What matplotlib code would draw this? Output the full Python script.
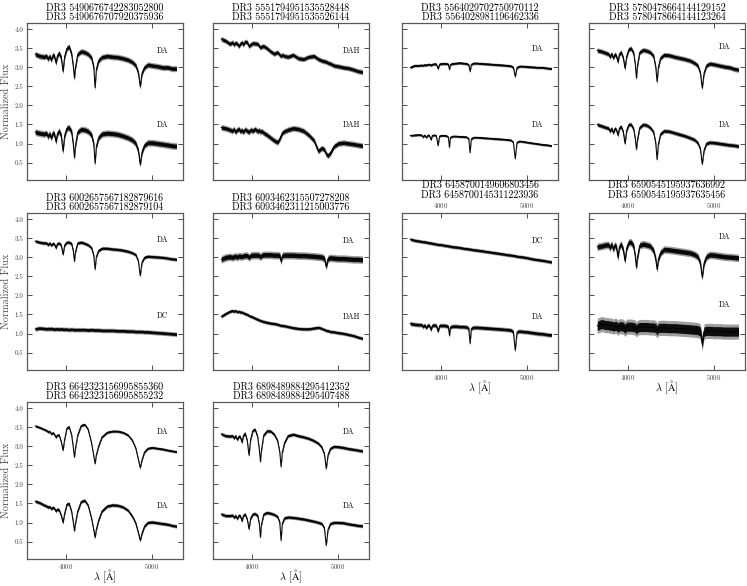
import numpy as np
import matplotlib
matplotlib.use("Agg")
import matplotlib.pyplot as plt

plt.rcParams['font.family'] = ['cmr10', 'DejaVu Serif']
plt.rcParams['mathtext.fontset'] = 'cm'
plt.rcParams['axes.formatter.use_mathtext'] = True

# wavelength grid (Angstrom) shared by all spectra
wave = [3650, 3700, 3750, 3780, 3798, 3815, 3835, 3855, 3870, 3889,
        3905, 3925, 3950, 3970, 3990, 4015, 4040, 4070, 4090, 4102,
        4114, 4140, 4180, 4220, 4260, 4300, 4325, 4340, 4355, 4380,
        4420, 4480, 4540, 4600, 4660, 4720, 4770, 4810, 4840, 4861,
        4882, 4910, 4950, 5000, 5060, 5120, 5180, 5230, 5280]

titles_a = ["DR3 5490676742283052800", "DR3 5551794951535528448",
            "DR3 5564029702750970112", "DR3 5780478664144129152",
            "DR3 6002657567182879616", "DR3 6093462315507278208",
            "DR3 6458700149606803456", "DR3 6590545195937636992",
            "DR3 6642323156995855360", "DR3 6898489884295412352"]
titles_b = ["DR3 5490676707920375936", "DR3 5551794951535526144",
            "DR3 5564028981196462336", "DR3 5780478664144123264",
            "DR3 6002657567182879104", "DR3 6093462311215003776",
            "DR3 6458700145311223936", "DR3 6590545195937635456",
            "DR3 6642323156995855232", "DR3 6898489884295407488"]
types_top = ["DA", "DAH", "DA", "DA", "DA", "DA", "DC", "DA", "DA", "DA"]
types_bot = ["DA", "DAH", "DA", "DA", "DC", "DAH", "DA", "DA", "DA", "DA"]

# upper spectrum (offset) of each pair
top_1 = [3.35, 3.30, 3.28, 3.30, 3.22, 3.30, 3.20, 3.33, 3.30, 3.12,
         3.30, 3.38, 3.25, 2.90, 3.30, 3.50, 3.55, 3.35, 3.00, 2.72,
         3.00, 3.35, 3.42, 3.40, 3.35, 3.25, 3.00, 2.47, 2.95, 3.18,
         3.27, 3.30, 3.28, 3.27, 3.24, 3.20, 3.14, 3.05, 2.85, 2.50,
         2.85, 3.00, 3.07, 3.05, 3.03, 3.00, 3.00, 2.97, 2.97]
top_2 = [3.75, 3.70, 3.62, 3.66, 3.60, 3.65, 3.62, 3.56, 3.62, 3.66,
         3.60, 3.68, 3.66, 3.56, 3.60, 3.64, 3.63, 3.62, 3.56, 3.52,
         3.55, 3.56, 3.50, 3.42, 3.36, 3.40, 3.33, 3.30, 3.33, 3.30,
         3.28, 3.33, 3.24, 3.22, 3.28, 3.30, 3.22, 3.18, 3.16, 3.15,
         3.12, 3.10, 3.05, 3.03, 3.00, 2.98, 2.94, 2.90, 2.88]
top_3 = [3.00, 3.05, 3.05, 3.06, 3.05, 3.07, 3.06, 3.08, 3.08, 3.06,
         3.08, 3.09, 3.09, 2.97, 3.09, 3.10, 3.10, 3.10, 3.08, 2.95,
         3.08, 3.10, 3.11, 3.12, 3.11, 3.10, 3.07, 2.90, 3.08, 3.11,
         3.11, 3.10, 3.09, 3.08, 3.07, 3.06, 3.05, 3.04, 3.00, 2.76,
         3.00, 3.03, 3.03, 3.02, 3.01, 3.00, 3.00, 2.98, 2.97]
top_4 = [3.45, 3.42, 3.38, 3.35, 3.28, 3.36, 3.25, 3.35, 3.30, 3.15,
         3.35, 3.40, 3.25, 2.98, 3.30, 3.48, 3.50, 3.38, 3.05, 2.72,
         3.05, 3.40, 3.46, 3.44, 3.40, 3.30, 3.00, 2.63, 3.00, 3.25,
         3.33, 3.32, 3.28, 3.25, 3.22, 3.18, 3.12, 3.05, 2.85, 2.46,
         2.85, 3.05, 3.10, 3.08, 3.05, 3.02, 3.00, 2.96, 2.94]
top_5 = [3.43, 3.40, 3.38, 3.38, 3.33, 3.38, 3.32, 3.37, 3.35, 3.25,
         3.36, 3.38, 3.32, 3.08, 3.33, 3.40, 3.40, 3.36, 3.15, 2.90,
         3.15, 3.38, 3.40, 3.37, 3.33, 3.25, 3.05, 2.69, 3.02, 3.18,
         3.24, 3.24, 3.22, 3.21, 3.19, 3.16, 3.12, 3.07, 2.90, 2.52,
         2.88, 3.00, 3.03, 3.02, 3.01, 3.00, 2.98, 2.96, 2.95]
top_6 = [2.95, 3.00, 3.02, 3.00, 3.02, 3.03, 3.01, 3.04, 3.03, 3.02,
         3.04, 3.05, 3.05, 3.00, 3.05, 3.06, 3.06, 3.06, 3.05, 3.01,
         3.05, 3.07, 3.07, 3.07, 3.06, 3.06, 3.05, 2.90, 3.05, 3.06,
         3.06, 3.06, 3.05, 3.05, 3.04, 3.03, 3.02, 3.01, 2.97, 2.76,
         2.97, 2.99, 2.98, 2.97, 2.97, 2.96, 2.95, 2.95, 2.94]
top_7 = [3.48, 3.45, 3.43, 3.42, 3.41, 3.41, 3.40, 3.39, 3.38, 3.38,
         3.37, 3.36, 3.35, 3.34, 3.34, 3.33, 3.32, 3.31, 3.30, 3.30,
         3.29, 3.28, 3.27, 3.26, 3.24, 3.23, 3.22, 3.22, 3.21, 3.20,
         3.19, 3.17, 3.15, 3.13, 3.11, 3.09, 3.07, 3.06, 3.05, 3.04,
         3.03, 3.02, 3.01, 2.99, 2.96, 2.94, 2.92, 2.90, 2.88]
top_8 = [3.28, 3.30, 3.33, 3.33, 3.25, 3.35, 3.22, 3.33, 3.28, 3.00,
         3.28, 3.35, 3.20, 2.91, 3.25, 3.40, 3.40, 3.30, 3.00, 2.74,
         3.00, 3.32, 3.35, 3.33, 3.30, 3.18, 2.95, 2.69, 2.95, 3.12,
         3.21, 3.20, 3.18, 3.16, 3.14, 3.12, 3.08, 3.02, 2.85, 2.48,
         2.85, 3.02, 3.07, 3.06, 3.04, 3.02, 3.01, 3.00, 2.99]
top_9 = [3.54, 3.50, 3.45, 3.42, 3.38, 3.40, 3.33, 3.36, 3.32, 3.24,
         3.30, 3.30, 3.12, 2.90, 3.20, 3.48, 3.52, 3.30, 2.95, 2.72,
         2.95, 3.30, 3.55, 3.58, 3.45, 3.08, 2.75, 2.55, 2.78, 3.00,
         3.25, 3.37, 3.40, 3.40, 3.37, 3.30, 3.16, 2.95, 2.65, 2.44,
         2.65, 2.85, 2.95, 2.97, 2.95, 2.93, 2.90, 2.88, 2.86]
top_10 = [3.33, 3.28, 3.27, 3.28, 3.22, 3.28, 3.18, 3.27, 3.25, 3.11,
          3.28, 3.35, 3.15, 2.77, 3.20, 3.42, 3.45, 3.25, 2.90, 2.60,
          2.90, 3.30, 3.41, 3.40, 3.32, 3.15, 2.85, 2.47, 2.85, 3.10,
          3.28, 3.32, 3.28, 3.25, 3.21, 3.15, 3.08, 2.98, 2.80, 2.42,
          2.78, 2.95, 3.00, 2.99, 2.97, 2.94, 2.92, 2.90, 2.88]

# lower spectrum of each pair
bot_1 = [1.30, 1.27, 1.25, 1.27, 1.18, 1.26, 1.15, 1.28, 1.25, 1.05,
         1.25, 1.33, 1.20, 0.80, 1.22, 1.40, 1.42, 1.30, 0.95, 0.63,
         0.95, 1.30, 1.37, 1.36, 1.32, 1.22, 0.98, 0.48, 0.92, 1.15,
         1.25, 1.27, 1.26, 1.24, 1.20, 1.15, 1.09, 1.00, 0.80, 0.45,
         0.78, 0.95, 1.02, 1.02, 1.00, 0.98, 0.96, 0.94, 0.93]
bot_2 = [1.42, 1.40, 1.36, 1.33, 1.38, 1.30, 1.36, 1.38, 1.32, 1.35,
         1.30, 1.37, 1.33, 1.30, 1.36, 1.33, 1.38, 1.32, 1.35, 1.30,
         1.33, 1.28, 1.22, 1.15, 1.08, 1.03, 1.12, 1.20, 1.28, 1.32,
         1.36, 1.40, 1.38, 1.33, 1.22, 1.08, 0.80, 0.88, 0.84, 0.72,
         0.68, 0.75, 0.92, 1.00, 1.02, 1.00, 0.98, 0.96, 0.94]
bot_3 = [1.21, 1.22, 1.23, 1.22, 1.17, 1.22, 1.16, 1.22, 1.21, 1.10,
         1.21, 1.22, 1.21, 0.95, 1.20, 1.21, 1.21, 1.20, 1.16, 0.90,
         1.16, 1.19, 1.19, 1.18, 1.18, 1.17, 1.12, 0.76, 1.12, 1.16,
         1.16, 1.15, 1.14, 1.13, 1.12, 1.11, 1.10, 1.09, 1.03, 0.60,
         1.03, 1.06, 1.05, 1.03, 1.01, 0.99, 0.97, 0.96, 0.94]
bot_4 = [1.50, 1.46, 1.42, 1.40, 1.32, 1.40, 1.28, 1.40, 1.36, 1.22,
         1.40, 1.45, 1.30, 1.00, 1.35, 1.50, 1.50, 1.38, 1.10, 0.85,
         1.10, 1.42, 1.50, 1.48, 1.42, 1.30, 1.00, 0.58, 0.98, 1.25,
         1.33, 1.32, 1.28, 1.24, 1.20, 1.15, 1.10, 1.02, 0.85, 0.46,
         0.82, 1.00, 1.03, 1.02, 1.00, 0.98, 0.96, 0.95, 0.93]
bot_5 = [1.12, 1.14, 1.13, 1.12, 1.13, 1.12, 1.13, 1.12, 1.11, 1.12,
         1.12, 1.11, 1.12, 1.11, 1.11, 1.11, 1.10, 1.11, 1.10, 1.10,
         1.10, 1.10, 1.10, 1.10, 1.09, 1.10, 1.09, 1.09, 1.09, 1.09,
         1.08, 1.08, 1.08, 1.07, 1.07, 1.06, 1.06, 1.05, 1.05, 1.05,
         1.05, 1.04, 1.04, 1.03, 1.02, 1.01, 1.00, 0.99, 0.98]
bot_6 = [1.45, 1.52, 1.58, 1.60, 1.58, 1.60, 1.57, 1.58, 1.56, 1.56,
         1.54, 1.52, 1.50, 1.47, 1.45, 1.43, 1.40, 1.37, 1.35, 1.34,
         1.33, 1.31, 1.29, 1.27, 1.26, 1.24, 1.22, 1.21, 1.21, 1.20,
         1.18, 1.15, 1.13, 1.12, 1.12, 1.14, 1.16, 1.13, 1.10, 1.08,
         1.07, 1.05, 1.04, 1.02, 1.00, 0.97, 0.94, 0.90, 0.87]
bot_7 = [1.26, 1.24, 1.23, 1.23, 1.18, 1.22, 1.15, 1.22, 1.21, 1.10,
         1.21, 1.22, 1.21, 1.06, 1.21, 1.21, 1.21, 1.20, 1.17, 0.95,
         1.17, 1.19, 1.19, 1.18, 1.18, 1.17, 1.13, 0.74, 1.13, 1.16,
         1.16, 1.15, 1.14, 1.13, 1.12, 1.11, 1.10, 1.09, 1.04, 0.56,
         1.04, 1.06, 1.05, 1.04, 1.02, 1.00, 0.99, 0.97, 0.96]
bot_8 = [1.20, 1.25, 1.22, 1.22, 1.20, 1.21, 1.18, 1.20, 1.20, 1.15,
         1.19, 1.19, 1.18, 1.12, 1.18, 1.18, 1.18, 1.17, 1.15, 1.10,
         1.15, 1.17, 1.17, 1.17, 1.16, 1.16, 1.14, 1.08, 1.14, 1.15,
         1.15, 1.14, 1.14, 1.13, 1.12, 1.11, 1.10, 1.09, 1.05, 0.74,
         1.05, 1.07, 1.07, 1.06, 1.06, 1.05, 1.05, 1.05, 1.05]
bot_9 = [1.56, 1.52, 1.46, 1.43, 1.40, 1.42, 1.36, 1.40, 1.37, 1.30,
         1.35, 1.33, 1.18, 1.00, 1.25, 1.48, 1.50, 1.28, 0.98, 0.78,
         0.98, 1.30, 1.55, 1.58, 1.45, 1.10, 0.80, 0.61, 0.82, 1.05,
         1.30, 1.43, 1.46, 1.45, 1.41, 1.32, 1.16, 0.98, 0.72, 0.53,
         0.72, 0.90, 1.00, 1.01, 0.99, 0.97, 0.95, 0.92, 0.90]
bot_10 = [1.22, 1.18, 1.18, 1.19, 1.13, 1.18, 1.10, 1.19, 1.17, 1.04,
          1.18, 1.22, 1.08, 0.83, 1.12, 1.22, 1.23, 1.18, 0.95, 0.61,
          0.95, 1.22, 1.26, 1.24, 1.21, 1.15, 1.00, 0.53, 0.98, 1.12,
          1.14, 1.13, 1.11, 1.09, 1.06, 1.03, 1.00, 0.97, 0.85, 0.40,
          0.82, 0.97, 1.00, 1.00, 0.99, 0.96, 0.94, 0.92, 0.91]

# approximate scatter half-width of each spectrum
noise_top = [0.08, 0.07, 0.04, 0.07, 0.05, 0.10, 0.05, 0.10, 0.04, 0.05]
noise_bot = [0.09, 0.08, 0.035, 0.06, 0.06, 0.05, 0.06, 0.20, 0.05, 0.05]

tops = [top_1, top_2, top_3, top_4, top_5, top_6, top_7, top_8, top_9, top_10]
bots = [bot_1, bot_2, bot_3, bot_4, bot_5, bot_6, bot_7, bot_8, bot_9, bot_10]

# label heights per panel (layout)
lab_y_top = [3.44, 3.44, 3.50, 3.54, 3.46, 3.43, 3.43, 3.54, 3.39, 3.39]
lab_y_bot = [1.48, 1.48, 1.48, 1.48, 1.46, 1.43, 1.43, 1.75, 1.45, 1.43]

W, H = 747, 586
fig = plt.figure(figsize=(W / 100, H / 100), dpi=100)

col_left = [27, 213, 402, 589]
row_top = [23, 213, 402]
aw, ah = 156, 157
cells = [(0, 0), (0, 1), (0, 2), (0, 3),
         (1, 0), (1, 1), (1, 2), (1, 3),
         (2, 0), (2, 1)]
wave = np.array(wave)

for i, (r, c) in enumerate(cells):
    ax = fig.add_axes([col_left[c] / W, 1 - (row_top[r] + ah) / H, aw / W, ah / H])
    for flux, nz in ((tops[i], noise_top[i]), (bots[i], noise_bot[i])):
        flux = np.array(flux)
        ax.fill_between(wave, flux - nz, flux + nz, color='0.62', lw=0)
        ax.fill_between(wave, flux - 0.6 * nz, flux + 0.6 * nz, color='0.05', lw=0)
        ax.plot(wave, flux, color='k', lw=0.7)
    ax.text(5050, lab_y_top[i], types_top[i], fontsize=5.6, va='center')
    ax.text(5050, lab_y_bot[i], types_bot[i], fontsize=5.6, va='center')

    ax.set_xlim(3555, 5355)
    ax.set_ylim(0.04, 4.17)
    ax.set_xticks([4000, 5000])
    ax.set_yticks([0.5, 1.0, 1.5, 2.0, 2.5, 3.0, 3.5, 4.0])
    ax.yaxis.set_major_formatter(matplotlib.ticker.FormatStrFormatter('%.1f'))
    ax.tick_params(direction='in', top=True, right=True, length=3.5, width=0.7,
                   color='0.3', labelsize=5, labelcolor='0.25', pad=2.5)
    for s in ax.spines.values():
        s.set_color('0.35')
        s.set_linewidth(0.9)

    if i in (6, 7, 8, 9):
        ax.set_xlabel(r'$\lambda$ [$\mathrm{\AA}$]', fontsize=7.4)
        ax.xaxis.set_label_coords(0.5, -0.055)
    else:
        ax.tick_params(labelbottom=False)
    if i in (6, 7):
        ax.tick_params(labeltop=True)
    if c == 0:
        ax.set_ylabel('Normalized Flux', fontsize=7.4, color='0.3', labelpad=3)
    else:
        ax.tick_params(labelleft=False)
    ax.set_title(titles_a[i] + "\n" + titles_b[i], fontsize=7.2, pad=2, linespacing=1.0)

fig.savefig('out.png', dpi=100)
